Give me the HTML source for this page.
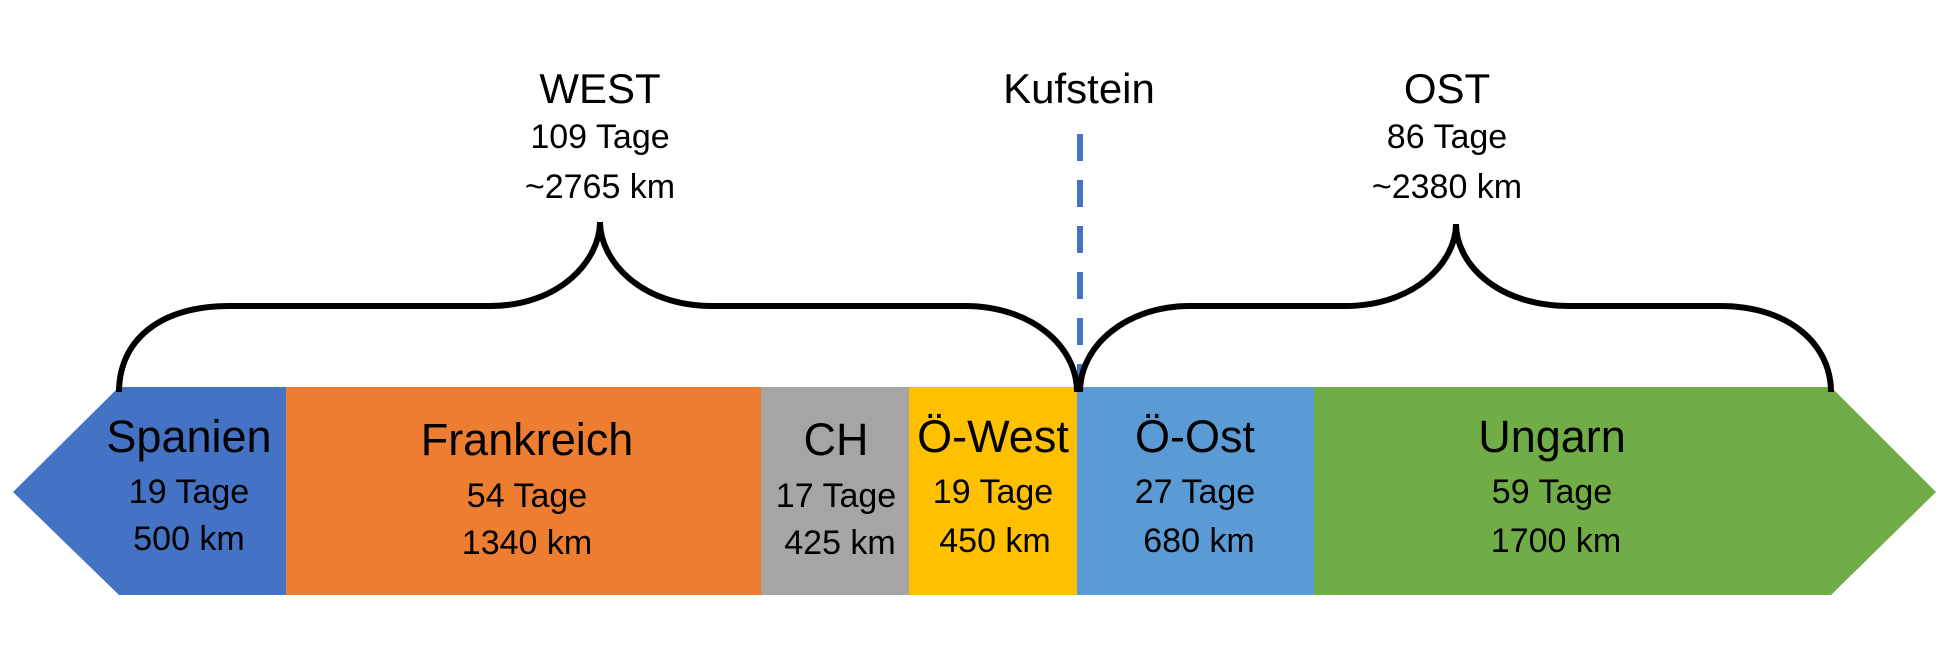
<!DOCTYPE html>
<html><head><style>
html,body{margin:0;padding:0;background:#fff;}
svg{display:block;}
text{font-family:"Liberation Sans",sans-serif;fill:#000;text-anchor:middle;}
.b{font-size:45px;}
.h{font-size:42px;}
.s{font-size:34px;}
</style></head><body>
<svg width="1940" height="648" viewBox="0 0 1940 648" xmlns="http://www.w3.org/2000/svg">
<polygon points="119,387 286,387 286,595 119,595 13,492" fill="#4472C4"/>
<rect x="286" y="387" width="475" height="208" fill="#ED7D31"/>
<rect x="761" y="387" width="148" height="208" fill="#A5A5A5"/>
<rect x="909" y="387" width="168" height="208" fill="#FFC000"/>
<rect x="1077" y="387" width="237" height="208" fill="#5B9BD5"/>
<polygon points="1314,387 1831,387 1936,492 1831,595 1314,595" fill="#70AD47"/>
<line x1="1080" y1="134" x2="1080" y2="385" stroke="#4472C4" stroke-width="6" stroke-dasharray="27,19"/>
<g fill="none" stroke="#000" stroke-width="6">
<path d="M119,392 C119,340 160,306 230,306 L490,306 C560,306 600,260 600,222 C600,260 640,306 712,306 L965,306 C1030,306 1077,345 1077,392"/>
<path d="M1080,392 C1080,345 1127,306 1190,306 L1345,306 C1415,306 1456,262 1456,224 C1456,262 1495,306 1570,306 L1720,306 C1790,306 1831,345 1831,392"/>
</g>
<text class="h" x="600" y="103">WEST</text>
<text class="s" x="600" y="148">109 Tage</text>
<text class="s" x="600" y="198">~2765 km</text>
<text class="h" x="1079" y="103">Kufstein</text>
<text class="h" x="1447" y="103">OST</text>
<text class="s" x="1447" y="148">86 Tage</text>
<text class="s" x="1447" y="198">~2380 km</text>
<text class="b" x="189" y="452">Spanien</text>
<text class="s" x="189" y="503">19 Tage</text>
<text class="s" x="189" y="550">500 km</text>
<text class="b" x="527" y="455">Frankreich</text>
<text class="s" x="527" y="507">54 Tage</text>
<text class="s" x="527" y="554">1340 km</text>
<text class="b" x="836" y="455">CH</text>
<text class="s" x="836" y="507">17 Tage</text>
<text class="s" x="840" y="554">425 km</text>
<text class="b" x="993" y="452">Ö-West</text>
<text class="s" x="993" y="503">19 Tage</text>
<text class="s" x="995" y="552">450 km</text>
<text class="b" x="1195" y="452">Ö-Ost</text>
<text class="s" x="1195" y="503">27 Tage</text>
<text class="s" x="1199" y="552">680 km</text>
<text class="b" x="1552" y="452">Ungarn</text>
<text class="s" x="1552" y="503">59 Tage</text>
<text class="s" x="1556" y="552">1700 km</text>
</svg>
</body></html>
